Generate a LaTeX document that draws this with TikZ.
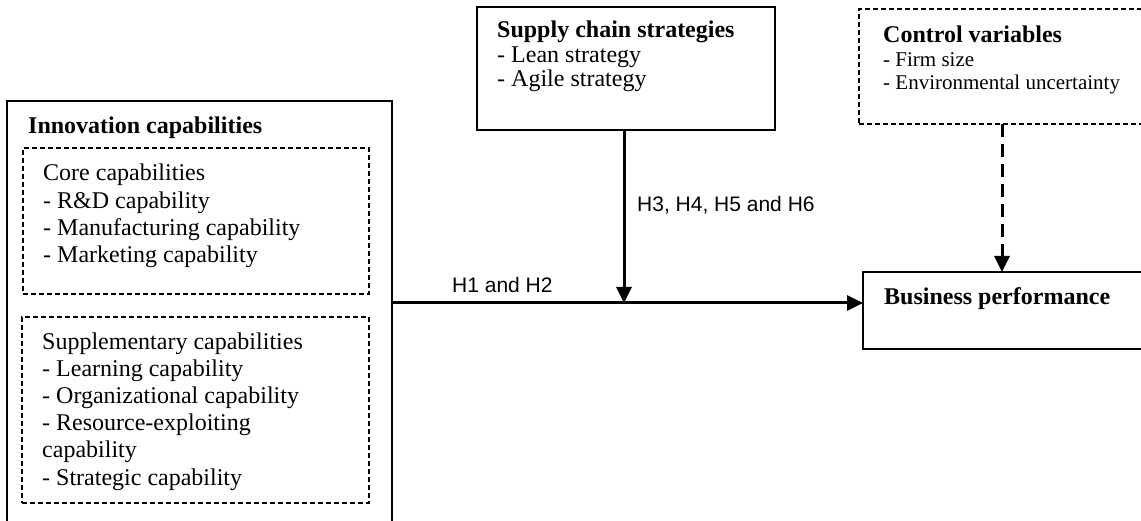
\documentclass[tikz,border=0pt]{standalone}
\usepackage{fontspec}
\setmainfont{Liberation Serif}
\newfontfamily\labelfont{Liberation Sans}
\usetikzlibrary{arrows.meta}
\begin{document}
\begin{tikzpicture}[x=1pt,y=-1pt,
  frame/.style={draw=black, line width=1.4pt, inner sep=0pt, outer sep=0pt, anchor=north west},
  dframe/.style={frame, line width=1.3pt, dash pattern=on 5pt off 3pt},
  txt/.style={anchor=base west, inner sep=0pt, font=\fontsize{24}{27}\selectfont},
  head/.style={txt, font=\fontsize{24}{27}\selectfont\bfseries},
  small/.style={txt, font=\fontsize{21}{24}\selectfont},
  hlabel/.style={anchor=base west, inner sep=0pt, font=\labelfont\fontsize{21}{24}\selectfont},
  link/.style={line width=3pt, -{Triangle[length=16pt,width=15pt]}},
]
\useasboundingbox (0,0) rectangle (1141,521);
\clip (0,0) rectangle (1141,521);

% boxes
\node[frame, minimum width=385pt, minimum height=440pt] (innov) at (7,101) {};
\node[dframe, minimum width=346pt, minimum height=146pt] (core) at (23,148) {};
\node[dframe, minimum width=347pt, minimum height=186pt] (supp) at (22,317) {};
\node[frame, minimum width=298pt, minimum height=123pt] (sc) at (477,7) {};
\node[dframe, minimum width=300pt, minimum height=115pt] (ctrl) at (859,9) {};
\node[frame, minimum width=300pt, minimum height=77pt] (bp) at (863,272) {};

% box texts
\node[head] (innov-t) at (28,134) {Innovation capabilities};
\foreach \t [count=\i] in {Core capabilities, - R\&D capability,
    - Manufacturing capability, - Marketing capability}
  \node[txt] (core-\i) at (43,{181+27.3*(\i-1)}) {\t};
\foreach \t [count=\i] in {Supplementary capabilities, - Learning capability,
    - Organizational capability, - Resource-exploiting, capability,
    - Strategic capability}
  \node[txt] (supp-\i) at (42,{349+27.2*(\i-1)}) {\t};
\node[head] (sc-t) at (497,38) {Supply chain strategies};
\node[txt] (sc-1) at (497,63) {- Lean strategy};
\node[txt] (sc-2) at (497,87) {- Agile strategy};
\node[head] (ctrl-t) at (883,43) {Control variables};
\node[small] (ctrl-1) at (883,67) {- Firm size};
\node[small] (ctrl-2) at (883,90) {- Environmental uncertainty};
\node[head] (bp-t) at (884,305) {Business performance};

% connectors
\coordinate (j) at (624,303);
\coordinate (k) at (1002,0);
\draw[link] (innov.east |- j) -- (bp.west |- j);
\draw[link] (sc.south -| j) -- (j);
\draw[link, dash pattern=on 13pt off 7pt] (ctrl.south -| k) -- (bp.north -| k);

% hypothesis labels
\node[hlabel] (h12) at (452,293) {H1 and H2};
\node[hlabel] (h36) at (637,212) {H3, H4, H5 and H6};
\end{tikzpicture}
\end{document}
